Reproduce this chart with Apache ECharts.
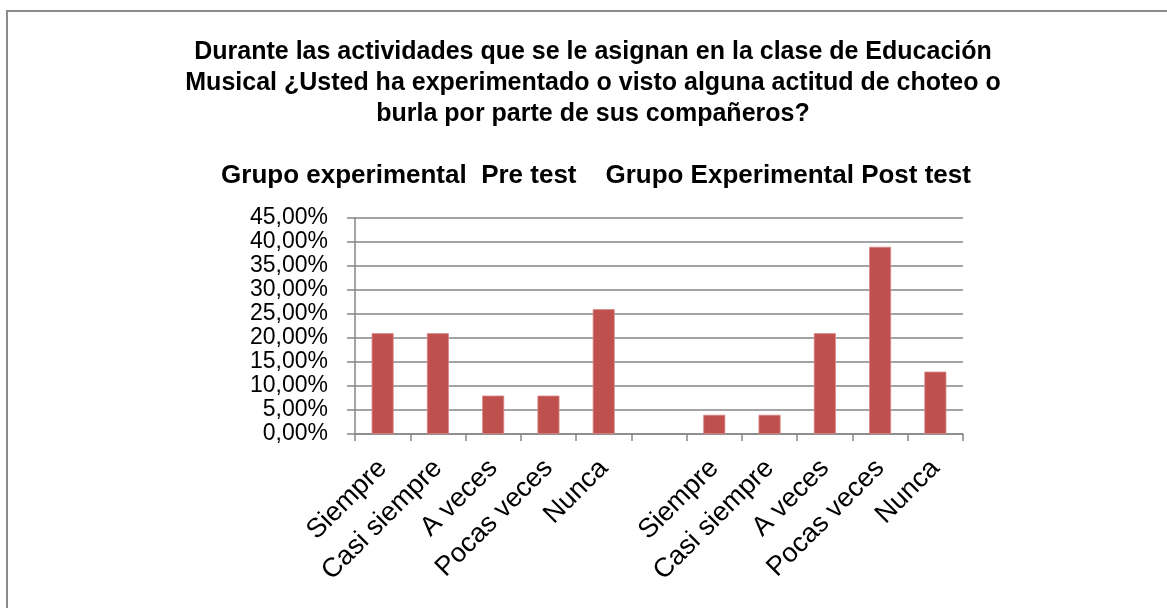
<!DOCTYPE html>
<html>
<head>
<meta charset="utf-8">
<script src="https://cdn.jsdelivr.net/npm/echarts@6/dist/echarts.min.js"></script>
<style>
	html, body { margin: 0; padding: 0; background: #fff; }
	#chart { width: 1167px; height: 608px; }
</style>
</head>
<body>
<div id="chart"></div>
<script>
	// categorías y valores (proporciones)
	var categoriasPre = ['Siempre', 'Casi siempre', 'A veces', 'Pocas veces', 'Nunca'];
	var valoresPre = [0.21, 0.21, 0.08, 0.08, 0.26];
	var categoriasPost = ['Siempre', 'Casi siempre', 'A veces', 'Pocas veces', 'Nunca'];
	var valoresPost = [0.04, 0.04, 0.21, 0.39, 0.13];

	var titulo = 'Durante las actividades que se le asignan en la clase de Educación\nMusical ¿Usted ha experimentado o visto alguna actitud de choteo o\nburla por parte de sus compañeros?';
	var subtitulo = 'Grupo experimental  Pre test    Grupo Experimental Post test';

	// hueco vacío entre los dos grupos
	var categorias = categoriasPre.concat(['']).concat(categoriasPost);
	var valores = valoresPre.concat([null]).concat(valoresPost);

	var fuente = "'Liberation Sans', Arial, sans-serif";
	var myChart = echarts.init(document.getElementById('chart'));
	var option = {
		animation: false,
		backgroundColor: '#ffffff',
		graphic: [{
			type: 'rect',
			shape: { x: 7, y: 11, width: 1200, height: 700 },
			style: { fill: 'none', stroke: '#8c8c8c', lineWidth: 2 }
		}],
		title: [{
			text: titulo,
			left: 588,
			top: 32,
			textAlign: 'center',
			textStyle: {
				fontFamily: fuente,
				fontWeight: 'bold',
				fontSize: 25,
				lineHeight: 31,
				color: '#000'
			}
		}, {
			text: subtitulo,
			left: 591,
			top: 158,
			textAlign: 'center',
			textStyle: {
				fontFamily: fuente,
				fontWeight: 'bold',
				fontSize: 26,
				color: '#000'
			}
		}],
		grid: {
			left: 355,
			right: 204,
			top: 218,
			bottom: 174
		},
		xAxis: {
			type: 'category',
			data: categorias,
			axisLine: { lineStyle: { color: '#868686', width: 1.5 } },
			axisTick: { show: true, length: 7, lineStyle: { color: '#868686', width: 1.5 } },
			axisLabel: {
				interval: 0,
				rotate: 45,
				margin: 30,
				fontFamily: fuente,
				fontSize: 27,
				color: '#000'
			}
		},
		yAxis: {
			type: 'value',
			min: 0,
			max: 0.45,
			interval: 0.05,
			axisLine: { show: true, lineStyle: { color: '#868686', width: 1.5 } },
			axisTick: { show: true, length: 8, lineStyle: { color: '#868686', width: 1.5 } },
			splitLine: { lineStyle: { color: '#868686', width: 1.5 } },
			axisLabel: {
				margin: 27,
				fontFamily: fuente,
				fontSize: 23,
				color: '#000',
				formatter: function(v) {
					return (v * 100).toFixed(2).replace('.', ',') + '%';
				}
			}
		},
		series: [{
			type: 'bar',
			data: valores,
			barWidth: 22,
			itemStyle: {
				color: '#C0504D',
				borderColor: '#d88886',
				borderWidth: 0.8
			}
		}]
	};
	myChart.setOption(option);
</script>
</body>
</html>
